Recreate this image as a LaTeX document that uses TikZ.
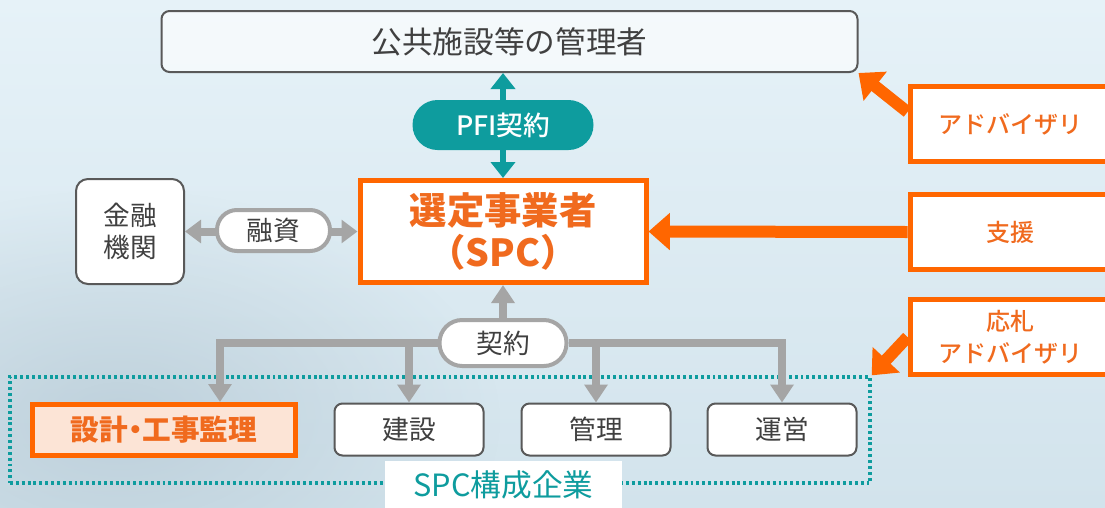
\documentclass[tikz,border=0pt]{standalone}
\usepackage{fontspec}
\setmainfont{Noto Sans CJK JP}
\newfontfamily\medium{Noto Sans CJK JP Medium}
\usetikzlibrary{arrows.meta,calc,fadings}
\tikzfading[name=softblob, inner color=transparent!0, outer color=transparent!100]
\definecolor{orng}{HTML}{FF6600}
\definecolor{orngtxt}{HTML}{F06A1E}
\definecolor{tealc}{HTML}{0E9C9E}
\definecolor{gry}{HTML}{A5A5A5}
\definecolor{dark}{HTML}{404040}
\definecolor{bord}{HTML}{595959}
\definecolor{peach}{HTML}{FCE4D6}
\definecolor{bgA}{HTML}{E6F2F8}
\definecolor{bgB}{HTML}{D2E3EC}
\definecolor{bgC}{HTML}{AFC3CF}
\begin{document}
\begin{tikzpicture}[x=0.75pt,y=-0.75pt,
  greybox/.style={draw=bord, line width=1.5pt, rounded corners=6pt, fill=white, text=dark,
    font=\fontsize{20}{24}\selectfont, inner sep=0pt},
  obox/.style={draw=orng, line width=3.75pt, fill=white, text=orngtxt,
    font=\medium\fontsize{18}{24}\selectfont, align=center, inner sep=0pt,
    minimum width=150pt, minimum height=56pt},
  pill/.style={draw=gry, line width=3pt, fill=white, text=dark,
    font=\fontsize{20}{24}\selectfont, inner sep=0pt},
  oarrow/.style={draw=orng, line width=9pt, -{Triangle[width=27pt,length=16pt]}},
  garrow/.style={draw=gry, line width=6pt, -{Triangle[width=17pt,length=13.5pt]}},
  gboth/.style={draw=gry, line width=6pt, {Triangle[width=17pt,length=12pt]}-{Triangle[width=17pt,length=12pt]}},
  tboth/.style={draw=tealc, line width=5pt, {Triangle[width=18pt,length=12pt]}-{Triangle[width=18pt,length=12pt]}}
]
\useasboundingbox (0,0) rectangle (1105,507);
\clip (0,0) rectangle (1105,507);
\shade[top color=bgA, bottom color=bgB] (0,0) rectangle (1105,507);
\fill[bgC, path fading=softblob, opacity=0.6] (120,420) ellipse (380 and 230);

% main nodes
\node[greybox, fill opacity=0.6, text opacity=1, minimum width=522pt, minimum height=45.75pt,
  font=\fontsize{23}{27}\selectfont] (top) at (509.5,41.5) {公共施設等の管理者};
\node[draw=orng, line width=3.75pt, fill=white, minimum width=214.5pt, minimum height=76.5pt,
  text=orngtxt, font=\bfseries\fontsize{28}{32}\selectfont, align=center, inner sep=0pt]
  (spc) at (503,231.5) {選定事業者\\（SPC）};
\node[greybox, rounded corners=9pt, minimum width=81pt, minimum height=78.75pt, align=center,
  font=\fontsize{20}{24}\selectfont] (kin) at (130,231.5) {金融\\機関};

% right boxes
\node[obox] (adv) at (1010,124) {アドバイザリ};
\node[obox] (shien) at (1010,232) {支援};
\node[obox] (ousatsu) at (1010,337) {応札\\アドバイザリ};

% group
\node[draw=tealc, line width=2.5pt, dash pattern=on 2.2pt off 2.2pt, minimum width=645pt,
  minimum height=79.5pt] (grp) at (440,430) {};

% bottom boxes
\node[draw=orng, line width=3.75pt, fill=peach, text=orngtxt, font=\bfseries\fontsize{21.5}{24}\selectfont,
  minimum width=197.25pt, minimum height=38.25pt, inner sep=0pt] (sekkei) at (164,430)
  {設計\kern-0.25em・\kern-0.25em工事監理};
\node[greybox, minimum width=111.75pt, minimum height=39pt] (kensetsu) at (409,429.5) {建設};
\node[greybox, minimum width=111.75pt, minimum height=39pt] (kanri) at (596,429.5) {管理};
\node[greybox, minimum width=111.75pt, minimum height=39pt] (unei) at (782,429.5) {運営};

% connectors
\draw[tboth] (spc.north |- top.south) -- (spc.north);
\node[fill=tealc, rounded corners=18.75pt, minimum width=135.75pt, minimum height=37.5pt,
  text=white, font=\medium\fontsize{20}{24}\selectfont, inner sep=0pt] (pfi) at (503,125) {PFI契約};

\draw[gboth] (kin.east) -- (spc.west);
\node[pill, rounded corners=15pt, minimum width=84.75pt, minimum height=30.75pt] (yushi) at (273.5,230.5) {融資};

\node[pill, rounded corners=17pt, minimum width=95.25pt, minimum height=34.5pt] (kei) at (503,343) {契約};
\draw[garrow] (kei.north) -- (spc.south);
\draw[garrow] (kei.west) -| ($(sekkei.north east)+(-78,0)$);
\draw[garrow] (kei.west) -| (kensetsu.north);
\draw[garrow] (kei.east) -| (kanri.north);
\draw[garrow] (kei.east) -| (unei.north);

\draw[oarrow] ($(adv.west)+(0,-12)$) -- (top.south east);
\draw[oarrow] (shien.west) -- (spc.east);
\draw[oarrow] (ousatsu.west) -- (grp.north east);

\node[fill=white, minimum width=177.75pt, minimum height=35.25pt, inner sep=0pt, text=tealc,
  font=\fontsize{23}{27}\selectfont] (grplbl) at (503.5,484.5) {SPC構成企業};
\end{tikzpicture}
\end{document}
